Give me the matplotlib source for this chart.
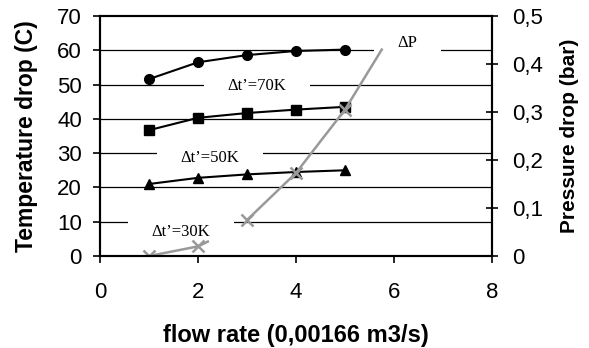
import matplotlib
matplotlib.use("Agg")
import matplotlib.pyplot as plt
from matplotlib.ticker import FixedLocator, FixedFormatter

flow = [1, 2, 3, 4, 5]
dt70 = [51.6, 56.5, 58.6, 59.8, 60.2]
dt50 = [36.7, 40.3, 41.7, 42.7, 43.5]
dt30 = [21.0, 22.8, 23.8, 24.5, 25.0]
dp = [0.0, 0.02, 0.075, 0.173, 0.305]
dp_line1_x = [1, 2, 2.2]
dp_line1_y = [0.0, 0.02, 0.03]
dp_line2_x = [3, 4, 5, 5.75]
dp_line2_y = [0.075, 0.173, 0.305, 0.43]

left_ticks = [0, 10, 20, 30, 40, 50, 60, 70]
right_ticks = [0, 0.1, 0.2, 0.3, 0.4, 0.5]
right_labels = ["0", "0,1", "0,2", "0,3", "0,4", "0,5"]
x_ticks = [0, 2, 4, 6, 8]

plt.rcParams['font.family'] = ['Liberation Sans', 'DejaVu Sans']

fig = plt.figure(figsize=(5.89, 3.48), dpi=100)
ax = fig.add_axes([100/589, 1-256/348, 392/589, 240/348])
ax.set_xlim(0, 8)
ax.set_ylim(0, 70)

for g in [10, 20, 30, 40, 50, 60]:
    ax.axhline(g, color='black', lw=0.9, zorder=1)

ax.plot(flow, dt70, color='black', lw=1.5, marker='o', ms=7, zorder=3)
ax.plot(flow, dt50, color='black', lw=1.5, marker='s', ms=7, zorder=3)
ax.plot(flow, dt30, color='black', lw=1.5, marker='^', ms=7, zorder=3)

ax2 = ax.twinx()
ax2.set_ylim(0, 0.5)
ax2.plot(dp_line1_x, dp_line1_y, color='#999999', lw=1.8, zorder=2)
ax2.plot(dp_line2_x, dp_line2_y, color='#999999', lw=1.8, zorder=2)
ax2.plot(flow, dp, ls='none', marker='x', ms=8, mew=1.8, color='#999999', zorder=2)

serif = ['Liberation Serif', 'DejaVu Serif']
bbox = dict(facecolor='white', edgecolor='none', boxstyle='square,pad=1.4', mutation_aspect=1/7)
ax.text(3.2, 49.5, "Δt’=70K", family=serif, fontsize=12, ha='center', va='center', bbox=bbox, zorder=2)
ax.text(2.25, 28.5, "Δt’=50K", family=serif, fontsize=12, ha='center', va='center', bbox=bbox, zorder=2)
ax.text(1.65, 7.0, "Δt’=30K", family=serif, fontsize=12, ha='center', va='center', bbox=bbox, zorder=2)
ax.text(6.27, 62, "ΔP", family=serif, fontsize=12, ha='center', va='center', bbox=bbox, zorder=2)

ax.set_xticks(x_ticks)
ax.yaxis.set_major_locator(FixedLocator(left_ticks))
ax2.yaxis.set_major_locator(FixedLocator(right_ticks))
ax2.yaxis.set_major_formatter(FixedFormatter(right_labels))

ax.tick_params(axis='both', direction='out', length=5, width=1.2, labelsize=16, color='black')
ax.tick_params(axis='y', pad=8)
ax2.tick_params(axis='y', direction='inout', length=9, width=1.2, labelsize=16, pad=10)
ax.tick_params(axis='x', pad=14)

for a in (ax, ax2):
    for s in a.spines.values():
        s.set_linewidth(1.5)

ax.set_ylabel("Temperature drop (C)", fontsize=16.5, fontweight='bold', labelpad=14)
ax2.set_ylabel("Pressure drop (bar)", fontsize=15, fontweight='bold', labelpad=12)
ax.set_xlabel("flow rate (0,00166 m3/s)", fontsize=17, fontweight='bold', labelpad=15)

fig.savefig("out.png", dpi=100)
